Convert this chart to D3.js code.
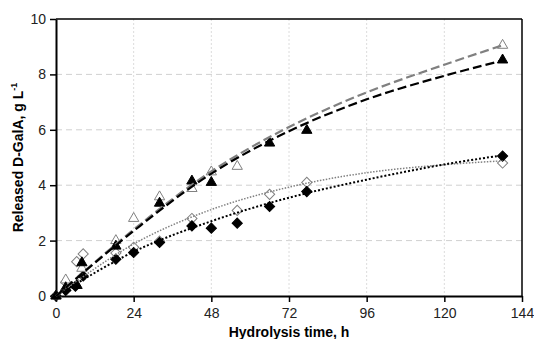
<!DOCTYPE html>
<html>
<head>
<meta charset="utf-8">
<script src="https://cdnjs.cloudflare.com/ajax/libs/d3/7.8.5/d3.min.js"></script>
<style>
  body { margin: 0; background: #fff; }
  svg { display: block; font-family: "Liberation Sans", Arial, sans-serif; }
</style>
</head>
<body>
<div id="chart"></div>
<script>
// measured points, [time h, released g/L]
const filledTriangles = [[0,0],[3,0.3],[6.5,0.38],[8,1.2],[18.5,1.8],[32,3.35],[42,4.15],[48,4.1],[66,5.52],[77.5,5.98],[138,8.52]];
const openTriangles   = [[0,0],[3,0.58],[8,1.0],[18.5,2.0],[24,2.8],[32,3.58],[42,3.88],[48,4.48],[56,4.68],[138,9.05]];
const filledDiamonds  = [[0,0],[3,0.2],[6,0.35],[8.4,0.72],[18.5,1.33],[24,1.57],[32,1.93],[42,2.53],[48,2.45],[56,2.63],[66,3.23],[77.5,3.77],[138,5.05]];
const openDiamonds    = [[0,0],[3,0.5],[6.4,1.24],[8.4,1.52],[18.5,1.55],[24,1.76],[32,1.98],[42,2.8],[56,3.09],[66,3.67],[77.5,4.1],[138,4.8]];

// fitted curves
const fitOpenTri   = [[0,0],[24,2.4],[48,4.5],[72,6.1],[96,7.35],[120,8.35],[138,9.05]];
const fitFilledTri = [[0,0],[24,2.35],[48,4.42],[72,5.95],[96,7.1],[120,7.95],[138,8.5]];
const fitOpenDia   = [[0,0],[24,1.88],[48,3.12],[72,3.93],[96,4.45],[120,4.74],[138,4.88]];
const fitFilledDia = [[0,0],[24,1.6],[48,2.7],[72,3.55],[96,4.2],[120,4.75],[138,5.08]];

const xTicks = [0, 24, 48, 72, 96, 120, 144];
const yTicks = [0, 2, 4, 6, 8, 10];

const W = 534, H = 339;
const margin = {top: 19, right: 12, bottom: 43, left: 56};
const width = W - margin.left - margin.right;
const height = H - margin.top - margin.bottom;

const svg = d3.select("#chart").append("svg")
    .attr("width", W)
    .attr("height", H);

const g = svg.append("g").attr("transform", `translate(${margin.left},${margin.top})`);

const x = d3.scaleLinear().domain([0, 144]).range([0, width]);
const y = d3.scaleLinear().domain([0, 10]).range([height, 0]);

// grid
g.selectAll(".hgrid").data(yTicks.slice(1, -1)).enter().append("line")
    .attr("x1", 0).attr("x2", width)
    .attr("y1", d => y(d)).attr("y2", d => y(d))
    .attr("stroke", "#d0d0d0").attr("stroke-width", 1)
    .attr("stroke-dasharray", "6,4");
g.selectAll(".vgrid").data(xTicks.slice(1, -1)).enter().append("line")
    .attr("y1", 0).attr("y2", height)
    .attr("x1", d => x(d)).attr("x2", d => x(d))
    .attr("stroke", "#dcdcdc").attr("stroke-width", 1)
    .attr("stroke-dasharray", "2,2");

// frame top/right
g.append("line").attr("x1", 0).attr("x2", width).attr("y1", 0).attr("y2", 0)
    .attr("stroke", "#000").attr("stroke-width", 1.5);
g.append("line").attr("x1", width).attr("x2", width).attr("y1", 0).attr("y2", height)
    .attr("stroke", "#000").attr("stroke-width", 1.5);

// axes
const xAxis = g.append("g").attr("transform", `translate(0,${height})`)
    .call(d3.axisBottom(x).tickValues(xTicks).tickSize(6).tickSizeOuter(0));
const yAxis = g.append("g")
    .call(d3.axisLeft(y).tickValues(yTicks).tickSize(6).tickSizeOuter(0));
[xAxis, yAxis].forEach(a => {
    a.select(".domain").attr("stroke", "#000").attr("stroke-width", 2);
    a.selectAll(".tick line").attr("stroke", "#000").attr("stroke-width", 1.5);
    a.selectAll(".tick text").attr("font-size", 14).attr("fill", "#222")
        .attr("font-family", "Liberation Sans, Arial, sans-serif");
});
xAxis.selectAll(".tick text").attr("dy", "0.95em");
yAxis.selectAll(".tick text").attr("x", -10);

// markers
const tri = d3.symbol().type(d3.symbolTriangle).size(46);
const dia = d3.symbol().type(d3.symbolSquare).size(52);

function drawMarkers(data, path, fill, stroke, rot) {
    g.append("g").selectAll("path").data(data).enter().append("path")
        .attr("d", path)
        .attr("transform", d => `translate(${x(d[0])},${y(d[1])}) rotate(${rot})`)
        .attr("fill", fill)
        .attr("stroke", stroke)
        .attr("stroke-width", 1);
}
drawMarkers(openDiamonds, dia, "#fff", "#808080", 45);
drawMarkers(filledDiamonds, dia, "#000", "#000", 45);
drawMarkers(openTriangles, tri, "#fff", "#808080", 0);
drawMarkers(filledTriangles, tri, "#000", "#000", 0);

// fitted lines
const line = d3.line().x(d => x(d[0])).y(d => y(d[1])).curve(d3.curveCatmullRom);
function drawFit(data, color, w, dash) {
    g.append("path").datum(data)
        .attr("d", line)
        .attr("fill", "none")
        .attr("stroke", color)
        .attr("stroke-width", w)
        .attr("stroke-dasharray", dash);
}
drawFit(fitOpenDia, "#808080", 1.5, "1.5,1.5");
drawFit(fitFilledDia, "#000", 2, "2,2");
drawFit(fitOpenTri, "#808080", 2.2, "9,4");
drawFit(fitFilledTri, "#000", 2.2, "9,4");

// titles
svg.append("text")
    .attr("x", margin.left + width / 2)
    .attr("y", 337)
    .attr("text-anchor", "middle")
    .attr("font-size", 14)
    .attr("font-weight", "bold")
    .text("Hydrolysis time, h");

const yt = svg.append("text")
    .attr("transform", `translate(23,${margin.top + height / 2}) rotate(-90)`)
    .attr("text-anchor", "middle")
    .attr("font-size", 14)
    .attr("font-weight", "bold");
yt.append("tspan").text("Released D-GalA, g L");
yt.append("tspan").attr("font-size", 9).attr("dy", -6).text("-1");
</script>
</body>
</html>
